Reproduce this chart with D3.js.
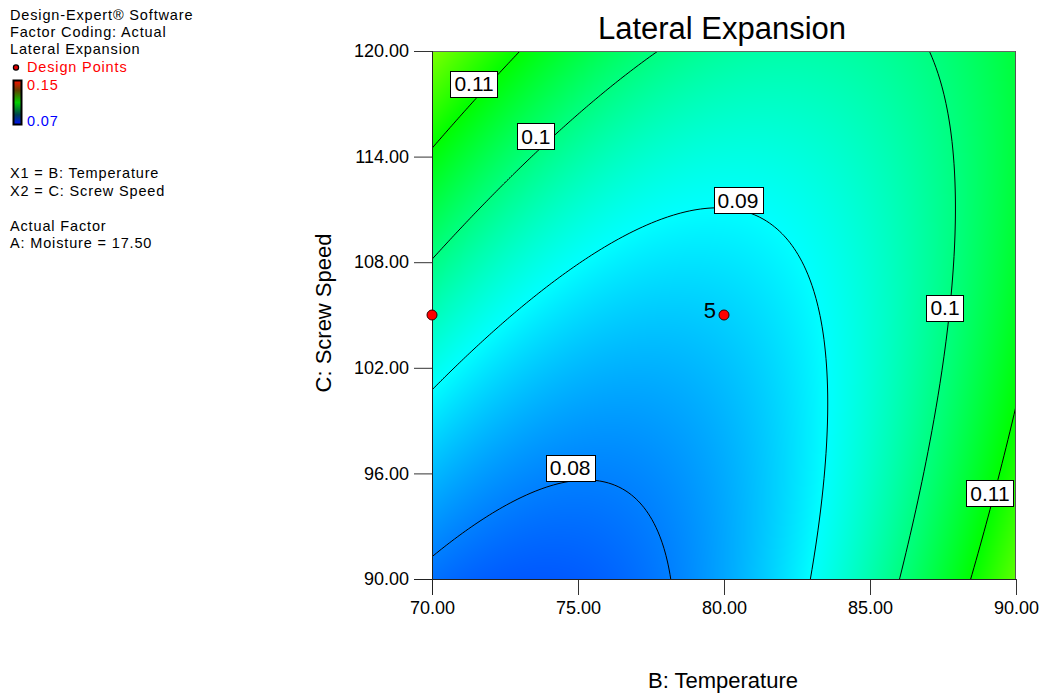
<!DOCTYPE html>
<html>
<head>
<meta charset="utf-8">
<script src="https://cdn.jsdelivr.net/npm/d3@7"></script>
<style>
  html, body { margin: 0; padding: 0; background: #fff; }
  svg { display: block; font-family: Arial, "Liberation Sans", sans-serif; }
</style>
</head>
<body>
<svg id="chart" width="1044" height="698"></svg>
<script>
// Factor ranges (actual units)
const temperatureRange = [70, 90];   // B: Temperature
const screwSpeedRange = [90, 120];   // C: Screw Speed

// Quadratic response model for Lateral Expansion in coded factors
// (A: Moisture held at 17.50). Terms: Intercept, B, C, BC, B^2, C^2
const modelTerms = ["Intercept", "B", "C", "BC", "B^2", "C^2"];
const modelCoefficients = [0.0864, 0.0060, 0.0073, -0.0132, 0.0151, 0.0039];

// Contour levels and their printed labels
const contourLevels = [0.08, 0.09, 0.10, 0.11];
const labelLevels = ["0.11", "0.1", "0.09", "0.08", "0.1", "0.11"];

// Design points
const designTemperature = [70, 80];
const designScrewSpeed = [105, 105];
const designReplicates = [1, 5];

// Axis ticks
const xTicks = [70, 75, 80, 85, 90];
const yTicks = [90, 96, 102, 108, 114, 120];

// Colour key range
const colorKeyRange = [0.07, 0.15];

// Where each contour label box sits (temperature, screw speed)
const labelAnchors = [
  [71.44, 118.13], [73.56, 115.17], [80.48, 111.53],
  [74.73, 96.31], [87.57, 105.40], [89.11, 94.86]
];

const svg = d3.select("#chart");
const plot = { left: 432, top: 51, right: 1016, bottom: 579 };
const W = plot.right - plot.left, H = plot.bottom - plot.top;

const x = d3.scaleLinear().domain(temperatureRange).range([plot.left, plot.right]);
const y = d3.scaleLinear().domain(screwSpeedRange).range([plot.bottom, plot.top]);

function response(B, C) {
  const x1 = (B - d3.mean(temperatureRange)) / ((temperatureRange[1] - temperatureRange[0]) / 2);
  const x2 = (C - d3.mean(screwSpeedRange)) / ((screwSpeedRange[1] - screwSpeedRange[0]) / 2);
  const k = modelCoefficients;
  return k[0] + k[1] * x1 + k[2] * x2 + k[3] * x1 * x2 + k[4] * x1 * x1 + k[5] * x2 * x2;
}

// Design-Expert style colour ramp: blue -> cyan -> green -> yellow -> red
const lo = colorKeyRange[0], hi = colorKeyRange[1], st = (hi - lo) / 4;
const color = d3.scaleLinear()
  .domain([lo, lo + st, lo + 2 * st, lo + 3 * st, hi])
  .range(["#0000ff", "#00ffff", "#00ff00", "#ffff00", "#ff0000"])
  .interpolate(d3.interpolateRgb)
  .clamp(true);

// Shaded surface rendered into a canvas and placed as an image
const canvas = document.createElement("canvas");
canvas.width = W; canvas.height = H;
const ctx = canvas.getContext("2d");
const img = ctx.createImageData(W, H);
for (let j = 0; j < H; j++) {
  const C = y.invert(plot.top + j + 0.5);
  for (let i = 0; i < W; i++) {
    const B = x.invert(plot.left + i + 0.5);
    const c = d3.rgb(color(response(B, C)));
    const p = (j * W + i) * 4;
    img.data[p] = c.r; img.data[p + 1] = c.g; img.data[p + 2] = c.b; img.data[p + 3] = 255;
  }
}
ctx.putImageData(img, 0, 0);

svg.append("defs").append("clipPath").attr("id", "plotClip")
  .append("rect").attr("x", plot.left).attr("y", plot.top).attr("width", W).attr("height", H);

svg.append("image")
  .attr("x", plot.left).attr("y", plot.top)
  .attr("width", W).attr("height", H)
  .attr("preserveAspectRatio", "none")
  .attr("href", canvas.toDataURL());

// Contour lines
const nx = 293, ny = 265;
const values = new Float64Array(nx * ny);
const stepB = (temperatureRange[1] - temperatureRange[0]) / (nx - 1);
const stepC = (screwSpeedRange[1] - screwSpeedRange[0]) / (ny - 1);
for (let j = 0; j < ny; j++) {
  for (let i = 0; i < nx; i++) {
    values[j * nx + i] = response(temperatureRange[0] + i * stepB, screwSpeedRange[1] - j * stepC);
  }
}
const contours = d3.contours().size([nx, ny]).thresholds(contourLevels)(values);
const toPx = p => [
  x(temperatureRange[0] + (p[0] - 0.5) * stepB),
  y(screwSpeedRange[1] - (p[1] - 0.5) * stepC)
];
const ringPath = ring => "M" + ring.map(p => toPx(p).join(",")).join("L") + "Z";

svg.append("g").attr("clip-path", "url(#plotClip)")
  .selectAll("path").data(contours).join("path")
  .attr("d", d => d.coordinates.map(poly => poly.map(ringPath).join("")).join(""))
  .attr("fill", "none")
  .attr("stroke", "#000")
  .attr("stroke-width", 1);

// Plot frame
svg.append("line").attr("x1", plot.left).attr("x2", plot.right).attr("y1", plot.top + 0.5).attr("y2", plot.top + 0.5)
  .attr("stroke", "#666");
svg.append("line").attr("x1", plot.right - 0.5).attr("x2", plot.right - 0.5).attr("y1", plot.top).attr("y2", plot.bottom)
  .attr("stroke", "#555");

// Axes
const yAxis = svg.append("g").attr("transform", `translate(${plot.left},0)`)
  .call(d3.axisLeft(y).tickValues(yTicks).tickFormat(d3.format(".2f")).tickSize(18).tickPadding(5));
const xAxis = svg.append("g").attr("transform", `translate(0,${plot.bottom})`)
  .call(d3.axisBottom(x).tickValues(xTicks).tickFormat(d3.format(".2f")).tickSize(16).tickPadding(6));
[yAxis, xAxis].forEach(a => {
  a.select(".domain").remove();
  a.selectAll("line").attr("stroke", "#333");
  a.selectAll("text").attr("font-size", 18).attr("font-family", "Arial, 'Liberation Sans', sans-serif").attr("fill", "#000");
});
svg.append("line").attr("x1", plot.left - 18).attr("x2", plot.right).attr("y1", plot.bottom + 0.5).attr("y2", plot.bottom + 0.5)
  .attr("stroke", "#222");
svg.append("line").attr("x1", plot.left + 0.5).attr("x2", plot.left + 0.5).attr("y1", plot.top).attr("y2", plot.bottom + 16)
  .attr("stroke", "#222");

// Contour labels
const labelG = svg.append("g");
labelLevels.forEach((t, k) => {
  const cx = x(labelAnchors[k][0]), cy = y(labelAnchors[k][1]);
  const g = labelG.append("g");
  const txt = g.append("text").attr("x", cx).attr("y", cy + 7.5)
    .attr("text-anchor", "middle").attr("font-size", 21).text(t);
  const bb = txt.node().getBBox();
  g.insert("rect", "text")
    .attr("x", Math.round(cx - bb.width / 2 - 4) + 0.5).attr("y", Math.round(cy - 13) + 0.5)
    .attr("width", Math.round(bb.width + 8)).attr("height", 26)
    .attr("fill", "#fff").attr("stroke", "#000").attr("stroke-width", 1);
});

// Design points
designTemperature.forEach((B, k) => {
  const cx = x(B), cy = y(designScrewSpeed[k]);
  svg.append("circle").attr("cx", cx).attr("cy", cy).attr("r", 5)
    .attr("fill", "#ff0000").attr("stroke", "#300").attr("stroke-width", 1);
  if (designReplicates[k] > 1) {
    svg.append("text").attr("x", cx - 8).attr("y", cy + 3)
      .attr("text-anchor", "end").attr("font-size", 22).text(designReplicates[k]);
  }
});

// Titles
svg.append("text").attr("x", 722).attr("y", 39).attr("text-anchor", "middle")
  .attr("font-size", 31).text("Lateral Expansion");
svg.append("text").attr("x", 723).attr("y", 688).attr("text-anchor", "middle")
  .attr("font-size", 22).text("B: Temperature");
svg.append("text").attr("transform", "translate(331,313) rotate(-90)").attr("text-anchor", "middle")
  .attr("font-size", 22).text("C: Screw Speed");

// Side legend
const leg = svg.append("g").attr("font-size", 14.5).attr("letter-spacing", 0.85);
const legLines = [
  ["Design-Expert\u00ae Software", 20, "#000"],
  ["Factor Coding: Actual", 37, "#000"],
  ["Lateral Expansion", 54, "#000"],
  ["X1 = B: Temperature", 178, "#000"],
  ["X2 = C: Screw Speed", 196, "#000"],
  ["Actual Factor", 231, "#000"],
  ["A: Moisture = 17.50", 248, "#000"]
];
legLines.forEach(([t, yy, c]) => leg.append("text").attr("x", 10).attr("y", yy).attr("fill", c).text(t));
leg.append("circle").attr("cx", 16).attr("cy", 67.5).attr("r", 2.6).attr("fill", "#e00000").attr("stroke", "#000").attr("stroke-width", 1.2);
leg.append("text").attr("x", 27).attr("y", 72).attr("fill", "#ff0000").text("Design Points");

const grad = svg.select("defs").append("linearGradient").attr("id", "keyGrad")
  .attr("x1", 0).attr("y1", 0).attr("x2", 0).attr("y2", 1);
[[0, "#ff1000"], [0.22, "#604000"], [0.5, "#00d000"], [0.78, "#004050"], [1, "#0010ff"]]
  .forEach(([o, c]) => grad.append("stop").attr("offset", o).attr("stop-color", c));
svg.append("rect").attr("x", 13.5).attr("y", 80.5).attr("width", 8).attr("height", 44)
  .attr("fill", "url(#keyGrad)").attr("stroke", "#000").attr("stroke-width", 2);
leg.append("text").attr("x", 27).attr("y", 90).attr("fill", "#ff0000").text(d3.format(".2f")(colorKeyRange[1]));
leg.append("text").attr("x", 27).attr("y", 126).attr("fill", "#0000ff").text(d3.format(".2f")(colorKeyRange[0]));
</script>
</body>
</html>
